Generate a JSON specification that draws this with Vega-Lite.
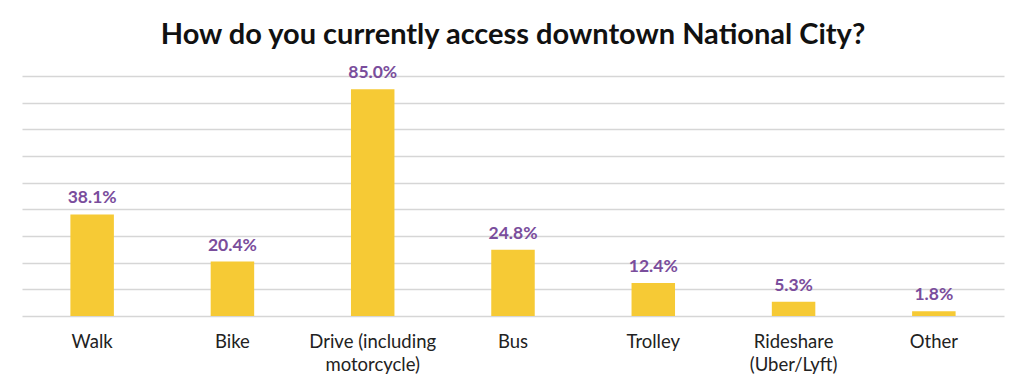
{
  "$schema": "https://vega.github.io/schema/vega-lite/v6.json",
  "width": 982,
  "height": 240,
  "autosize": {"type": "none"},
  "padding": {"left": 22, "top": 76, "right": 22, "bottom": 72},
  "background": "white",
  "title": {
    "text": "How do you currently access downtown National City?",
    "font": "Lato",
    "fontSize": 29,
    "fontWeight": "bold",
    "color": "#111111",
    "anchor": "middle",
    "baseline": "alphabetic",
    "offset": 31,
    "dy": 40
  },
  "data": {
    "values": [
      {"mode": "Walk", "pct": 0.381},
      {"mode": "Bike", "pct": 0.204},
      {"mode": "Drive (including motorcycle)", "pct": 0.85},
      {"mode": "Bus", "pct": 0.248},
      {"mode": "Trolley", "pct": 0.124},
      {"mode": "Rideshare (Uber/Lyft)", "pct": 0.053},
      {"mode": "Other", "pct": 0.018}
    ]
  },
  "encoding": {
    "x": {
      "field": "mode",
      "type": "nominal",
      "sort": null,
      "scale": {"paddingInner": 0.69, "paddingOuter": 0.345},
      "axis": {
        "title": null,
        "domain": false,
        "ticks": false,
        "labelAngle": 0,
        "labelFont": "Lato",
        "labelFontSize": 18.5,
        "labelColor": "#222222",
        "labelPadding": 16,
        "labelLineHeight": 23,
        "labelExpr": "datum.label == 'Drive (including motorcycle)' ? ['Drive (including', 'motorcycle)'] : datum.label == 'Rideshare (Uber/Lyft)' ? ['Rideshare', '(Uber/Lyft)'] : datum.label"
      }
    },
    "y": {
      "field": "pct",
      "type": "quantitative",
      "scale": {"domain": [0, 0.9], "nice": false},
      "axis": {
        "title": null,
        "labels": false,
        "ticks": false,
        "domain": false,
        "values": [0, 0.1, 0.2, 0.3, 0.4, 0.5, 0.6, 0.7, 0.8, 0.9],
        "grid": true,
        "gridColor": "#d6d6d6",
        "gridWidth": 1.5
      }
    }
  },
  "layer": [
    {"mark": {"type": "bar", "color": "#F6CA35"}},
    {
      "mark": {
        "type": "text",
        "baseline": "alphabetic",
        "dy": -11,
        "font": "Lato",
        "fontSize": 17.5,
        "fontWeight": "bold",
        "color": "#7A4D9C"
      },
      "encoding": {
        "text": {"field": "pct", "type": "quantitative", "format": ".1%"}
      }
    }
  ],
  "config": {"view": {"stroke": null}}
}
